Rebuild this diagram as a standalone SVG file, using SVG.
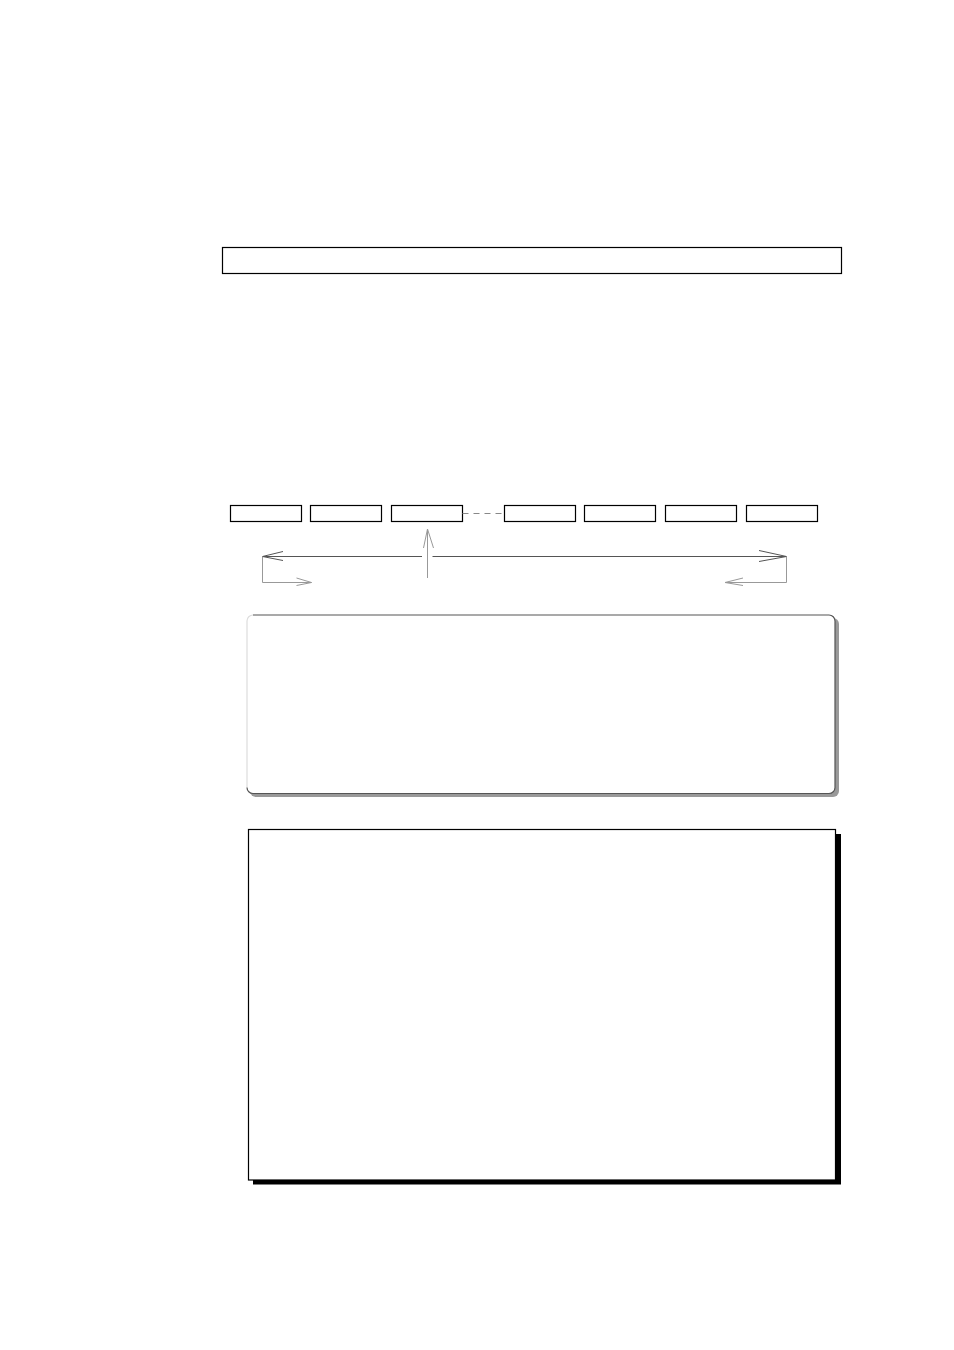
<svg xmlns="http://www.w3.org/2000/svg" width="954" height="1350" viewBox="0 0 954 1350">
<style>
.box{fill:#fff;stroke:#000;stroke-width:1.2}
.ln{fill:none;stroke:#555;stroke-width:1}
.lt{fill:none;stroke:#999;stroke-width:1}
</style>
<rect width="954" height="1350" fill="#fff"/>
<g id="header"><rect class="box" x="222.5" y="247.5" width="619" height="26"/></g>
<g id="cells">
<rect id="c1" class="box" x="230.5" y="505.5" width="71" height="16"/>
<rect id="c2" class="box" x="310.5" y="505.5" width="71" height="16"/>
<rect id="c3" class="box" x="391.5" y="505.5" width="71" height="16"/>
<rect id="c4" class="box" x="504.5" y="505.5" width="71" height="16"/>
<rect id="c5" class="box" x="584.5" y="505.5" width="71" height="16"/>
<rect id="c6" class="box" x="665.5" y="505.5" width="71" height="16"/>
<rect id="c7" class="box" x="746.5" y="505.5" width="71" height="16"/>
</g>
<g id="connectors">
<line x1="462.5" y1="513.5" x2="504.5" y2="513.5" stroke="#888" stroke-width="1" stroke-dasharray="6,5"/>
<line class="ln" x1="262.5" y1="556.5" x2="422" y2="556.5"/>
<line class="ln" x1="432.5" y1="556.5" x2="786.5" y2="556.5"/>
<polyline class="ln" points="283,551.5 262.5,556.5 283,560.5"/>
<polyline class="ln" points="759,550.5 786.5,556.5 759,561.5"/>
<polyline class="lt" points="262.5,556.5 262.5,582.5 311.5,582.5"/>
<polyline class="lt" points="296.5,578 311.5,582.5 296.5,585.5"/>
<polyline class="lt" points="786.5,556.5 786.5,582.5 725,582.5"/>
<polyline class="lt" points="743,578 725,582.5 743,585.5"/>
<line class="lt" x1="427.5" y1="578" x2="427.5" y2="529"/>
<polyline class="lt" points="423.5,548 427.5,529 433.5,548"/>
</g>
<g id="panel1">
<rect x="250" y="618" width="589" height="179" rx="6" fill="#999"/>
<rect x="247" y="615" width="588" height="178.5" rx="6" fill="#fff" stroke="none"/>
<path d="M247,787.5 V621 A6,6 0 0 1 253,615" fill="none" stroke="#ddd" stroke-width="1.2"/>
<path d="M253,615 H829 A6,6 0 0 1 835,621 V787.5 A6,6 0 0 1 829,793.5 H253 A6,6 0 0 1 247,787.5" fill="none" stroke="#555" stroke-width="1.2"/>
</g>
<g id="panel2">
<rect x="253" y="834" width="588" height="350.5" fill="#000"/>
<rect class="box" x="248.5" y="829.5" width="587" height="350.5"/>
</g>
</svg>
